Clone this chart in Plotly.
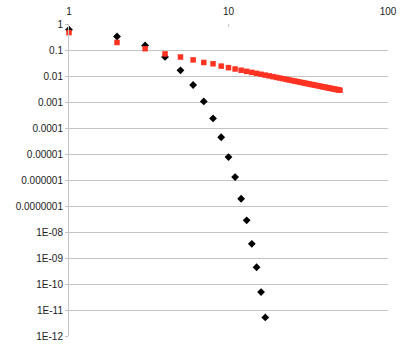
import plotly.graph_objects as go

# black series (diamonds)
k_black = list(range(1, 18))
p_black = [0.6, 0.33, 0.15, 0.054, 0.0166, 0.0045, 0.00105, 0.000234, 4.4e-5,
           7.6e-6, 1.3e-6, 1.9e-7, 2.8e-8, 3.5e-9, 4.4e-10, 4.9e-11, 5.2e-12]

# red series (squares)
k_red = list(range(1, 51))
p_red = [0.468, 0.195, 0.112, 0.0708, 0.0537, 0.0417, 0.0331, 0.0295, 0.0240, 0.0209,
         0.01858, 0.01667, 0.01508, 0.01377, 0.01263, 0.01166, 0.01082, 0.01008, 0.00943, 0.00884,
         0.00832, 0.00786, 0.00744, 0.00705, 0.00670, 0.00639, 0.00610, 0.00583, 0.00558, 0.00535,
         0.00514, 0.00494, 0.00475, 0.00458, 0.00442, 0.00427, 0.00412, 0.00399, 0.00386, 0.00374,
         0.00363, 0.00352, 0.00342, 0.00333, 0.00324, 0.00315, 0.00307, 0.00299, 0.00291, 0.00284]

y_ticks = [10.0 ** -i for i in range(13)]
y_labels = ["1", "0.1", "0.01", "0.001", "0.0001", "0.00001", "0.000001", "0.0000001",
            "1E-08", "1E-09", "1E-10", "1E-11", "1E-12"]
x_ticks = [1, 10, 100]
x_labels = ["1", "10", "100"]

fig = go.Figure()

fig.add_trace(go.Scatter(
    x=k_black, y=p_black, mode="markers", cliponaxis=False,
    marker=dict(symbol="diamond", size=6, color="black")
))
fig.add_trace(go.Scatter(
    x=k_red, y=p_red, mode="markers", cliponaxis=False,
    marker=dict(symbol="square", size=5.5, color="#FF3322")
))

grid = "#c4c4c4"
fig.update_layout(
    width=407, height=348,
    margin=dict(l=69, r=19, t=24, b=12),
    paper_bgcolor="white", plot_bgcolor="white",
    showlegend=False,
    font=dict(family="Liberation Sans", size=10, color="#222"),
    xaxis=dict(type="log", range=[0, 2], side="top", automargin=False,
               tickvals=x_ticks, ticktext=x_labels, ticklabeloverflow="allow",
               ticklabelstandoff=6,
               showgrid=False, zeroline=False,
               showline=False, ticks="inside", ticklen=3, tickcolor=grid),
    yaxis=dict(type="log", range=[-12, 0], automargin=False,
               tickvals=y_ticks, ticktext=y_labels, ticklabeloverflow="allow",
               showgrid=True, gridcolor=grid, gridwidth=1, zeroline=False,
               showline=True, linecolor=grid, linewidth=1,
               ticks="outside", ticklen=3, tickcolor=grid),
)

# drop the page's default body margin so the figure fills the window
fig.write_html("out.html", config={"displayModeBar": False},
               post_script="document.body.style.margin = '0';")
